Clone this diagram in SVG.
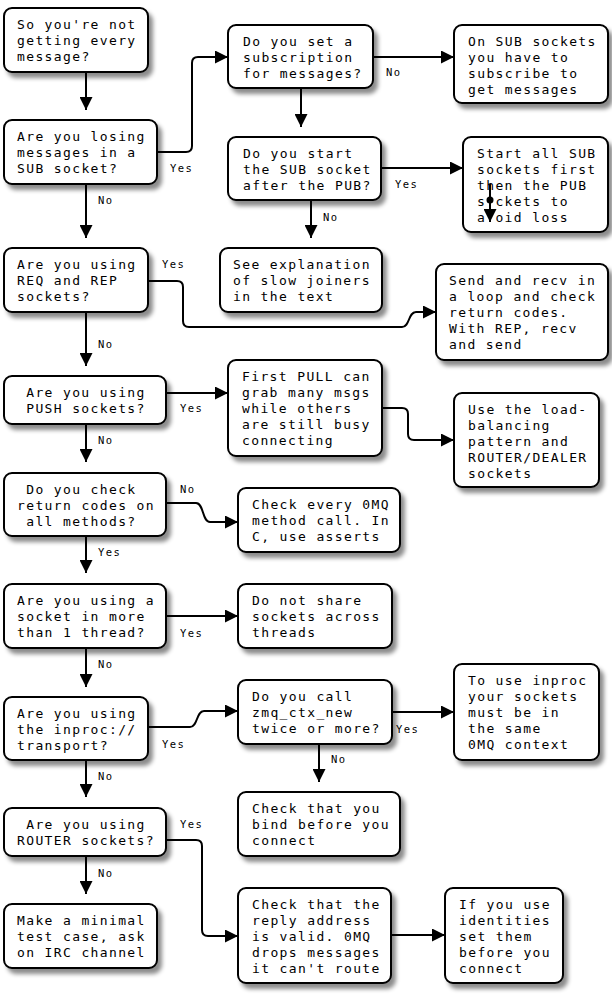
<svg xmlns="http://www.w3.org/2000/svg" width="612" height="1008" viewBox="0 0 612 1008">
<defs>
<filter id="sh" x="-10%" y="-10%" width="130%" height="140%">
<feDropShadow dx="4" dy="5" stdDeviation="2" flood-color="#000" flood-opacity="0.45"/>
</filter>
<marker id="ah" markerUnits="userSpaceOnUse" markerWidth="13" markerHeight="13" refX="13" refY="6.5" orient="auto" viewBox="0 0 13 13">
<path d="M0,0 L13,6.5 L0,13 z" fill="#000"/>
</marker>
<style>
.box rect{fill:#fff;stroke:#000;stroke-width:2;filter:url(#sh)}
.box text{font-family:"DejaVu Sans Mono",monospace;font-size:13px;letter-spacing:1.37px;fill:#000}
.c path{fill:none;stroke:#000;stroke-width:2;marker-end:url(#ah)}
.lbl{font-family:"DejaVu Sans Mono",monospace;font-size:10.5px;letter-spacing:1.4px;fill:#000}
</style>
</defs>
<rect width="612" height="1008" fill="#fff"/>

<g id="connectors" class="c">
<path d="M86,72 V110"/>
<path d="M157,152 H186 Q192,152 192,146 V63 Q192,57 198,57 H228"/>
<path d="M86,184 V238"/>
<path d="M373,57 H454"/>
<path d="M301,88 V127"/>
<path d="M381,168 H463"/>
<path d="M311,200 V238"/>
<path d="M148,281 H177 Q183,281 183,287 V321 Q183,327 189,327 H402 C410,327 408,312 416,312 H436"/>
<path d="M86,312 V366"/>
<path d="M166,393 H228"/>
<path d="M382,408 H402 Q408,408 408,414 V434 Q408,440 414,440 H454"/>
<path d="M86,424 V462"/>
<path d="M166,503 H196 C204,503 202,522 210,522 H238"/>
<path d="M86,536 V573"/>
<path d="M166,616 H238"/>
<path d="M86,648 V687"/>
<path d="M148,727 H190 C198,727 196,711 204,711 H238"/>
<path d="M392,712 H454"/>
<path d="M319,744 V782"/>
<path d="M86,760 V797"/>
<path d="M166,840 H196 Q202,840 202,846 V930 Q202,936 208,936 H238"/>
<path d="M86,856 V894"/>
<path d="M391,935 H445"/>
</g>

<g id="labels">
<text class="lbl" x="170" y="172">Yes</text>
<text class="lbl" x="98" y="204">No</text>
<text class="lbl" x="386" y="76">No</text>
<text class="lbl" x="395" y="188">Yes</text>
<text class="lbl" x="323" y="221">No</text>
<text class="lbl" x="162" y="268">Yes</text>
<text class="lbl" x="98" y="348">No</text>
<text class="lbl" x="180" y="412">Yes</text>
<text class="lbl" x="98" y="444">No</text>
<text class="lbl" x="180" y="493">No</text>
<text class="lbl" x="98" y="556">Yes</text>
<text class="lbl" x="180" y="637">Yes</text>
<text class="lbl" x="98" y="668">No</text>
<text class="lbl" x="162" y="748">Yes</text>
<text class="lbl" x="396" y="733">Yes</text>
<text class="lbl" x="331" y="763">No</text>
<text class="lbl" x="98" y="780">No</text>
<text class="lbl" x="180" y="828">Yes</text>
<text class="lbl" x="98" y="877">No</text>
</g>

<g id="n1" class="box"><rect x="4" y="8" width="144" height="64" rx="8"/>
<text x="17" y="28.5">So you're not</text><text x="17" y="44.5">getting every</text><text x="17" y="60.5">message?</text></g>

<g id="n2" class="box"><rect x="4" y="120" width="153" height="64" rx="8"/>
<text x="17" y="140.5">Are you losing</text><text x="17" y="156.5">messages in a</text><text x="17" y="172.5">SUB socket?</text></g>

<g id="n3" class="box"><rect x="228" y="25" width="145" height="63" rx="8"/>
<text x="243" y="45.5">Do you set a</text><text x="243" y="61.5">subscription</text><text x="243" y="77.5">for messages?</text></g>

<g id="n4" class="box"><rect x="454" y="25" width="154" height="78" rx="8"/>
<text x="468" y="45.5">On SUB sockets</text><text x="468" y="61.5">you have to</text><text x="468" y="77.5">subscribe to</text><text x="468" y="93.5">get messages</text></g>

<g id="n5" class="box"><rect x="228" y="137" width="153" height="63" rx="8"/>
<text x="243" y="157.5">Do you start</text><text x="243" y="173.5">the SUB socket</text><text x="243" y="189.5">after the PUB?</text></g>

<g id="n6" class="box"><rect x="463" y="137" width="145" height="95" rx="8"/>
<text x="477" y="157.5">Start all SUB</text><text x="477" y="173.5">sockets first</text><text x="477" y="189.5">then the PUB</text><text x="477" y="205.5">s ckets to</text><text x="477" y="221.5">a oid loss</text>
<circle cx="490" cy="200" r="3.5" fill="#000"/>
<path d="M490,184 V222" fill="none" stroke="#000" stroke-width="2" marker-end="url(#ah)"/></g>

<g id="n7" class="box"><rect x="4" y="248" width="144" height="64" rx="8"/>
<text x="17" y="268.5">Are you using</text><text x="17" y="284.5">REQ and REP</text><text x="17" y="300.5">sockets?</text></g>

<g id="n8" class="box"><rect x="220" y="248" width="162" height="64" rx="8"/>
<text x="233" y="268.5">See explanation</text><text x="233" y="284.5">of slow joiners</text><text x="233" y="300.5">in the text</text></g>

<g id="n9" class="box"><rect x="436" y="264" width="172" height="96" rx="8"/>
<text x="449" y="284.5">Send and recv in</text><text x="449" y="300.5">a loop and check</text><text x="449" y="316.5">return codes.</text><text x="449" y="332.5">With REP, recv</text><text x="449" y="348.5">and send</text></g>

<g id="n10" class="box"><rect x="4" y="376" width="162" height="48" rx="8"/>
<text x="26.2" y="396.5">Are you using</text><text x="26.2" y="412.5">PUSH sockets?</text></g>

<g id="n11" class="box"><rect x="228" y="360" width="154" height="96" rx="8"/>
<text x="242" y="380.5">First PULL can</text><text x="242" y="396.5">grab many msgs</text><text x="242" y="412.5">while others</text><text x="242" y="428.5">are still busy</text><text x="242" y="444.5">connecting</text></g>

<g id="n12" class="box"><rect x="454" y="393" width="145" height="94" rx="8"/>
<text x="468" y="413.5">Use the load-</text><text x="468" y="429.5">balancing</text><text x="468" y="445.5">pattern and</text><text x="468" y="461.5">ROUTER/DEALER</text><text x="468" y="477.5">sockets</text></g>

<g id="n13" class="box"><rect x="4" y="473" width="162" height="63" rx="8"/>
<text x="26.2" y="493.5">Do you check</text><text x="17" y="509.5">return codes on</text><text x="26.2" y="525.5">all methods?</text></g>

<g id="n14" class="box"><rect x="238" y="488" width="162" height="64" rx="8"/>
<text x="252" y="508.5">Check every 0MQ</text><text x="252" y="524.5">method call. In</text><text x="252" y="540.5">C, use asserts</text></g>

<g id="n15" class="box"><rect x="4" y="584" width="162" height="64" rx="8"/>
<text x="17" y="604.5">Are you using a</text><text x="17" y="620.5">socket in more</text><text x="17" y="636.5">than 1 thread?</text></g>

<g id="n16" class="box"><rect x="238" y="584" width="154" height="64" rx="8"/>
<text x="252" y="604.5">Do not share</text><text x="252" y="620.5">sockets across</text><text x="252" y="636.5">threads</text></g>

<g id="n17" class="box"><rect x="4" y="697" width="144" height="63" rx="8"/>
<text x="17" y="717.5">Are you using</text><text x="17" y="733.5">the inproc://</text><text x="17" y="749.5">transport?</text></g>

<g id="n18" class="box"><rect x="238" y="680" width="154" height="64" rx="8"/>
<text x="252" y="700.5">Do you call</text><text x="252" y="716.5">zmq_ctx_new</text><text x="252" y="732.5">twice or more?</text></g>

<g id="n19" class="box"><rect x="454" y="664" width="145" height="96" rx="8"/>
<text x="468" y="684.5">To use inproc</text><text x="468" y="700.5">your sockets</text><text x="468" y="716.5">must be in</text><text x="468" y="732.5">the same</text><text x="468" y="748.5">0MQ context</text></g>

<g id="n20" class="box"><rect x="238" y="792" width="162" height="64" rx="8"/>
<text x="252" y="812.5">Check that you</text><text x="252" y="828.5">bind before you</text><text x="252" y="844.5">connect</text></g>

<g id="n21" class="box"><rect x="4" y="808" width="162" height="48" rx="8"/>
<text x="26.2" y="828.5">Are you using</text><text x="17" y="844.5">ROUTER sockets?</text></g>

<g id="n22" class="box"><rect x="4" y="904" width="153" height="64" rx="8"/>
<text x="17" y="924.5">Make a minimal</text><text x="17" y="940.5">test case, ask</text><text x="17" y="956.5">on IRC channel</text></g>

<g id="n23" class="box"><rect x="238" y="888" width="153" height="95" rx="8"/>
<text x="252" y="908.5">Check that the</text><text x="252" y="924.5">reply address</text><text x="252" y="940.5">is valid. 0MQ</text><text x="252" y="956.5">drops messages</text><text x="252" y="972.5">it can't route</text></g>

<g id="n24" class="box"><rect x="445" y="888" width="118" height="95" rx="8"/>
<text x="459" y="908.5">If you use</text><text x="459" y="924.5">identities</text><text x="459" y="940.5">set them</text><text x="459" y="956.5">before you</text><text x="459" y="972.5">connect</text></g>
</svg>
